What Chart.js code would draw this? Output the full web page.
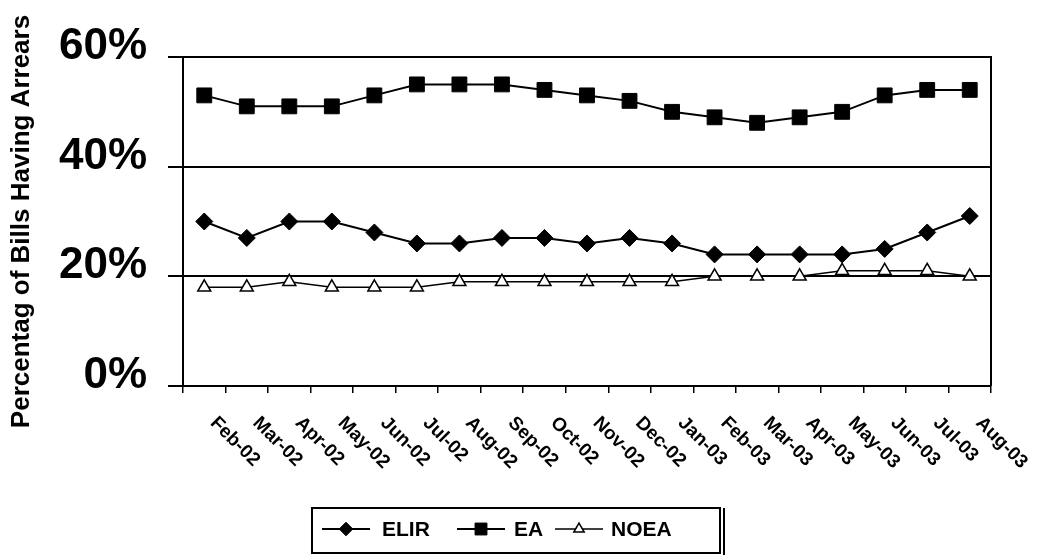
<!DOCTYPE html>
<html>
<head>
<meta charset="utf-8">
<script src="https://cdn.jsdelivr.net/npm/chart.js@4.4.0/dist/chart.umd.min.js"></script>
<style>
  html, body { margin: 0; padding: 0; background: #fff; }
  #wrap { width: 1039px; height: 560px; }
</style>
</head>
<body>
<div id="wrap"><canvas id="c" width="1039" height="560"></canvas></div>
<script>
// Monthly share of bills with arrears, by customer group (percent)
const months = ['Feb-02', 'Mar-02', 'Apr-02', 'May-02', 'Jun-02', 'Jul-02', 'Aug-02',
  'Sep-02', 'Oct-02', 'Nov-02', 'Dec-02', 'Jan-03', 'Feb-03', 'Mar-03', 'Apr-03',
  'May-03', 'Jun-03', 'Jul-03', 'Aug-03'];
const elir = [30, 27, 30, 30, 28, 26, 26, 27, 27, 26, 27, 26, 24, 24, 24, 24, 25, 28, 31];
const ea   = [53, 51, 51, 51, 53, 55, 55, 55, 54, 53, 52, 50, 49, 48, 49, 50, 53, 54, 54];
const noea = [18, 18, 19, 18, 18, 18, 19, 19, 19, 19, 19, 19, 20, 20, 20, 21, 21, 21, 20];
const yTickValues = [0, 20, 40, 60];
const yTitle = 'Percentag of Bills Having Arrears';

const FONT = "'Liberation Sans', Arial, sans-serif";

// Slanted month labels, reading downward from each category
const slantedLabels = {
  id: 'slantedLabels',
  afterDraw(chart) {
    const xs = chart.scales.x;
    const ctx = chart.ctx;
    ctx.save();
    ctx.fillStyle = '#000';
    ctx.font = 'bold 19px ' + FONT;
    ctx.textAlign = 'left';
    ctx.textBaseline = 'middle';
    xs.getLabels().forEach((lab, i) => {
      const x = xs.getPixelForValue(i);
      ctx.save();
      ctx.translate(x + 9, xs.top + 34);
      ctx.rotate(Math.PI / 4);
      ctx.fillText(lab, 0, 0);
      ctx.restore();
    });
    ctx.restore();
  }
};

// Frame round the plot area (top and right edges)
const plotFrame = {
  id: 'plotFrame',
  beforeDatasetsDraw(chart) {
    const a = chart.chartArea;
    const ctx = chart.ctx;
    ctx.save();
    ctx.strokeStyle = '#000';
    ctx.lineWidth = 2;
    ctx.beginPath();
    ctx.moveTo(a.left, a.top);
    ctx.lineTo(a.right, a.top);
    ctx.lineTo(a.right, a.bottom);
    ctx.stroke();
    ctx.restore();
  }
};

// Boxed legend with line-and-marker swatches
const boxedLegend = {
  id: 'boxedLegend',
  afterDraw(chart) {
    const ctx = chart.ctx;
    const box = { x: 312, y: 508, w: 408, h: 45 };
    const cy = box.y + 21;
    const items = [
      { lineX: 322, textX: 382 },
      { lineX: 457, textX: 514 },
      { lineX: 555, textX: 611 }
    ];
    ctx.save();
    ctx.strokeStyle = '#000';
    ctx.lineWidth = 2;
    ctx.strokeRect(box.x, box.y, box.w, box.h);
    ctx.beginPath();
    ctx.moveTo(box.x + box.w + 4, box.y);
    ctx.lineTo(box.x + box.w + 4, box.y + box.h + 2);
    ctx.stroke();
    ctx.font = 'bold 21px ' + FONT;
    ctx.textAlign = 'left';
    ctx.textBaseline = 'middle';
    chart.data.datasets.forEach((ds, i) => {
      const it = items[i];
      ctx.strokeStyle = ds.borderColor;
      ctx.lineWidth = ds.borderWidth;
      ctx.beginPath();
      ctx.moveTo(it.lineX, cy);
      ctx.lineTo(it.lineX + 48, cy);
      ctx.stroke();
      ctx.fillStyle = ds.pointBackgroundColor;
      ctx.strokeStyle = ds.borderColor;
      ctx.lineWidth = ds.pointBorderWidth;
      Chart.helpers.drawPoint(ctx, {
        pointStyle: ds.pointStyle,
        radius: ds.pointRadius * 0.8,
        rotation: 0,
        borderWidth: ds.pointBorderWidth
      }, it.lineX + 24, cy);
      ctx.fillStyle = '#000';
      ctx.fillText(ds.label, it.textX, cy + 1);
    });
    ctx.restore();
  }
};

new Chart(document.getElementById('c'), {
  type: 'line',
  data: {
    labels: months,
    datasets: [
      {
        label: 'ELIR', data: elir,
        borderColor: '#000', borderWidth: 2,
        pointStyle: 'rectRot', pointRadius: 8.5,
        pointBackgroundColor: '#000', pointBorderColor: '#000', pointBorderWidth: 1
      },
      {
        label: 'EA', data: ea,
        borderColor: '#000', borderWidth: 2,
        pointStyle: 'rect', pointRadius: 10.5,
        pointBackgroundColor: '#000', pointBorderColor: '#000', pointBorderWidth: 1
      },
      {
        label: 'NOEA', data: noea,
        borderColor: '#000', borderWidth: 1.5,
        pointStyle: 'triangle', pointRadius: 7.5,
        pointBackgroundColor: '#fff', pointBorderColor: '#000', pointBorderWidth: 1.5
      }
    ]
  },
  options: {
    responsive: false,
    animation: false,
    devicePixelRatio: 1,
    layout: { padding: { top: 57, right: 48, left: 0, bottom: 0 } },
    plugins: {
      legend: { display: false },
      tooltip: { enabled: false }
    },
    scales: {
      x: {
        type: 'category',
        offset: true,
        grid: {
          offset: true, drawOnChartArea: false, drawTicks: true,
          tickLength: 7, color: '#000', lineWidth: 1.5
        },
        border: { display: true, color: '#000', width: 2 },
        ticks: { display: false },
        afterFit(s) { s.height = 174; }
      },
      y: {
        min: 0, max: 60,
        afterBuildTicks(s) { s.ticks = yTickValues.map(v => ({ value: v })); },
        ticks: {
          callback: v => v + '%',
          color: '#000',
          padding: 21,
          labelOffset: -10,
          font: { family: FONT, size: 44, weight: 'bold' }
        },
        grid: { color: '#000', lineWidth: 2, tickLength: 15, drawTicks: true },
        border: { display: true, color: '#000', width: 2 },
        title: {
          display: true, text: yTitle, color: '#000',
          font: { family: FONT, size: 26, weight: 'bold' },
          padding: { top: 6, bottom: 0 }
        },
        afterFit(s) { s.width = 183; }
      }
    }
  },
  plugins: [plotFrame, slantedLabels, boxedLegend]
});
</script>
</body>
</html>
